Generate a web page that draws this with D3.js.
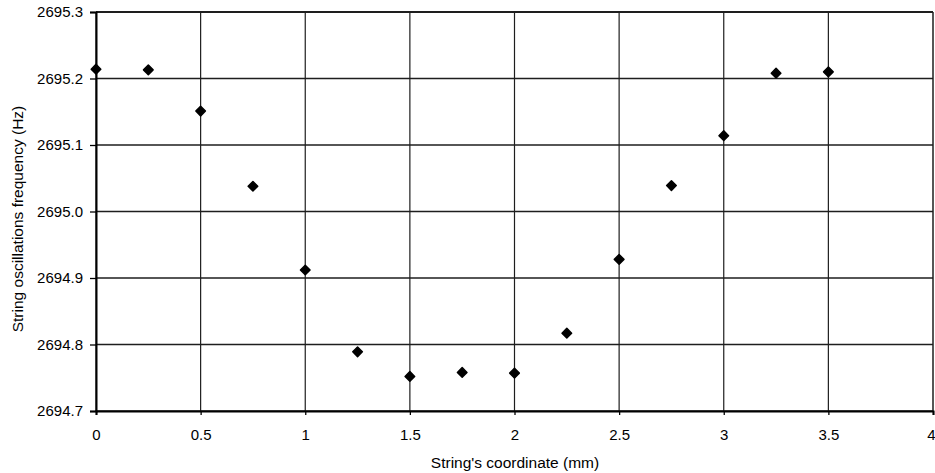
<!DOCTYPE html>
<html>
<head>
<meta charset="utf-8">
<script src="https://cdn.jsdelivr.net/npm/d3@7"></script>
<style>
  html, body { margin: 0; padding: 0; background: #fff; }
  svg { display: block; font-family: "Liberation Sans", Arial, sans-serif; }
</style>
</head>
<body>
<svg id="chart" width="935" height="473"></svg>
<script>
// Data
const coordinates = [0, 0.25, 0.5, 0.75, 1, 1.25, 1.5, 1.75, 2, 2.25, 2.5, 2.75, 3, 3.25, 3.5];
const frequencies = [2695.214, 2695.213, 2695.151, 2695.038, 2694.912, 2694.789, 2694.752, 2694.758, 2694.757, 2694.817, 2694.928, 2695.039, 2695.114, 2695.208, 2695.210];
const xTicks = [0, 0.5, 1, 1.5, 2, 2.5, 3, 3.5, 4];
const xTickLabels = ["0", "0.5", "1", "1.5", "2", "2.5", "3", "3.5", "4"];
const yTicks = [2694.7, 2694.8, 2694.9, 2695.0, 2695.1, 2695.2, 2695.3];
const yTickLabels = ["2694.7", "2694.8", "2694.9", "2695.0", "2695.1", "2695.2", "2695.3"];
const xTitle = "String's coordinate (mm)";
const yTitle = "String oscillations frequency (Hz)";

const svg = d3.select("#chart");
const margin = { left: 96, right: 2, top: 12, bottom: 62 };
const W = 935, H = 473;

const x = d3.scaleLinear().domain([0, 4]).range([margin.left, W - margin.right]);
const y = d3.scaleLinear().domain([2694.7, 2695.3]).range([H - margin.bottom, margin.top]);

// Gridlines
const grid = svg.append("g");
grid.selectAll("line.h").data(yTicks).join("line")
  .attr("x1", x(0)).attr("x2", x(4))
  .attr("y1", d => y(d)).attr("y2", d => y(d))
  .attr("stroke", "#1e1e1e").attr("stroke-width", d => (d === 2695.3 ? 2 : 1.3));
grid.selectAll("line.v").data(xTicks).join("line")
  .attr("y1", y(2694.7)).attr("y2", y(2695.3))
  .attr("x1", d => x(d)).attr("x2", d => x(d))
  .attr("stroke", "#1e1e1e").attr("stroke-width", d => (d === 4 ? 1.5 : 1.2));

// Y axis
const yAxis = d3.axisLeft(y).tickValues(yTicks).tickFormat((d, i) => yTickLabels[i]).tickSize(6).tickPadding(7);
const gy = svg.append("g").attr("transform", `translate(${x(0)},0)`).call(yAxis);
gy.select(".domain").attr("stroke", "#000").attr("stroke-width", 2);
gy.selectAll(".tick line").attr("stroke", "#000").attr("stroke-width", 1.3);
gy.selectAll(".tick text").attr("font-size", 15).attr("fill", "#000").attr("font-family", "Liberation Sans, Arial, sans-serif");

// X axis
const xAxis = d3.axisBottom(x).tickValues(xTicks).tickFormat((d, i) => xTickLabels[i]).tickSize(4).tickPadding(14);
const gx = svg.append("g").attr("transform", `translate(0,${y(2694.7)})`).call(xAxis);
gx.select(".domain").attr("stroke", "#000").attr("stroke-width", 2);
gx.selectAll(".tick line").attr("stroke", "#000").attr("stroke-width", 1.3);
gx.selectAll(".tick text").attr("font-size", 15).attr("fill", "#000").attr("font-family", "Liberation Sans, Arial, sans-serif")
  .attr("text-anchor", d => (d === 4 ? "end" : "middle"))
  .attr("dx", d => (d === 4 ? 2 : 0));

// Points (rounded diamonds)
const sym = d3.symbol().type(d3.symbolSquare).size(46);
svg.append("g").selectAll("path").data(coordinates).join("path")
  .attr("d", sym)
  .attr("transform", (d, i) => `translate(${x(d)},${y(frequencies[i])}) rotate(45)`)
  .attr("fill", "#000").attr("stroke", "#000").attr("stroke-width", 1.5).attr("stroke-linejoin", "round");

// Titles
svg.append("text")
  .attr("x", 515).attr("y", 468)
  .attr("text-anchor", "middle").attr("font-size", 15.5).attr("fill", "#000")
  .text(xTitle);
svg.append("text")
  .attr("transform", `translate(23,${219}) rotate(-90)`)
  .attr("text-anchor", "middle").attr("font-size", 15.5).attr("fill", "#000")
  .text(yTitle);
</script>
</body>
</html>
